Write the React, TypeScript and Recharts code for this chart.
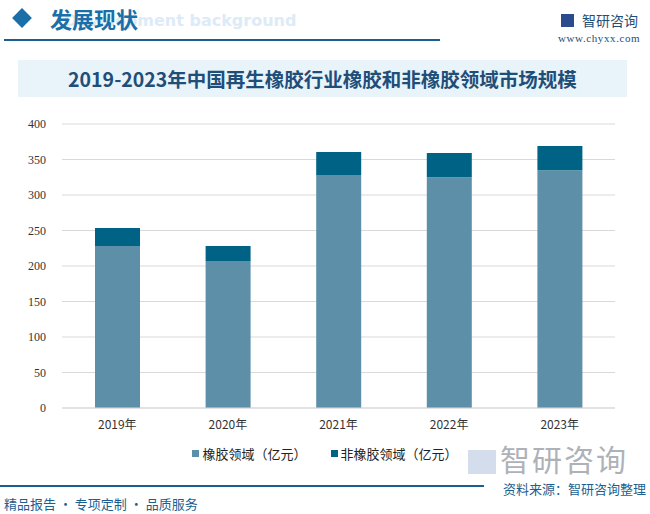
import { BarChart, Bar, XAxis, YAxis, CartesianGrid } from 'recharts'

const years = ['2019年', '2020年', '2021年', '2022年', '2023年']
const rubberField = [228, 207, 328, 325, 335]
const nonRubberField = [25.5, 21, 32.5, 34, 34]
const yTicks = [0, 50, 100, 150, 200, 250, 300, 350, 400]

const rubberColor = '#5D90A8'
const nonRubberColor = '#006386'
const brandBlue = '#1A5F8F'
const cjk = '"Noto Sans CJK SC", "Noto Sans", sans-serif'

const data = years.map((year, i) => ({
  year,
  rubber: rubberField[i],
  nonRubber: nonRubberField[i],
}))

function LegendItem({ color, label }: { color: string; label: string }) {
  return (
    <span style={{ display: 'inline-flex', alignItems: 'center', margin: '0 12px' }}>
      <span style={{ width: 7, height: 7, background: color, marginRight: 3 }} />
      {label}
    </span>
  )
}

export default function App() {
  return (
    <div
      style={{
        position: 'fixed',
        left: 0,
        top: 0,
        width: 650,
        height: 514,
        background: '#fff',
        overflow: 'hidden',
        fontFamily: cjk,
      }}
    >
      {/* header, the faint english words sit behind the heading like in the source */}
      <div
        style={{
          position: 'absolute',
          left: 64,
          top: 11,
          fontSize: 16,
          fontWeight: 700,
          color: '#DCEBF7',
          fontFamily: '"DejaVu Sans", sans-serif',
          whiteSpace: 'nowrap',
        }}
      >
        Development background
      </div>
      <div
        style={{
          position: 'absolute',
          left: 15,
          top: 11,
          width: 14,
          height: 14,
          background: '#1A6FA8',
          transform: 'rotate(45deg)',
        }}
      />
      <div
        style={{
          position: 'absolute',
          left: 50,
          top: 3,
          fontSize: 22,
          fontWeight: 700,
          color: '#1A6FA8',
          lineHeight: '30px',
        }}
      >
        发展现状
      </div>
      <div style={{ position: 'absolute', left: 4, top: 39, width: 436, height: 2, background: brandBlue }} />
      <div
        style={{
          position: 'absolute',
          left: 561,
          top: 10,
          fontSize: 14,
          color: '#1F4E79',
          display: 'flex',
          alignItems: 'center',
        }}
      >
        <span style={{ width: 13, height: 13, background: '#2B4C8C', marginRight: 8, display: 'inline-block' }} />
        智研咨询
      </div>
      <div
        style={{
          position: 'absolute',
          left: 558,
          top: 32,
          fontSize: 11,
          letterSpacing: 0.6,
          color: '#1F4E79',
          fontFamily: '"Liberation Serif", serif',
        }}
      >
        www.chyxx.com
      </div>

      {/* title */}
      <div
        style={{
          position: 'absolute',
          left: 18,
          top: 60,
          width: 609,
          height: 37,
          background: '#E8F3FA',
          display: 'flex',
          alignItems: 'center',
          justifyContent: 'center',
          fontSize: 19.5,
          fontWeight: 700,
          color: '#1F4E79',
          whiteSpace: 'nowrap',
        }}
      >
        2019-2023年中国再生橡胶行业橡胶和非橡胶领域市场规模
      </div>

      {/* chart */}
      <div style={{ position: 'absolute', left: 0, top: 100 }}>
        <BarChart
          width={650}
          height={340}
          data={data}
          margin={{ top: 24, right: 35, bottom: 2, left: 0 }}
          barSize={45}
        >
          <CartesianGrid vertical={false} stroke="#D9D9D9" />
          <XAxis
            dataKey="year"
            height={30}
            axisLine={{ stroke: '#D9D9D9' }}
            tickLine={false}
            tick={{ fontSize: 12, fill: '#333', fontFamily: cjk }}
            tickMargin={6}
          />
          <YAxis
            width={62}
            domain={[0, 400]}
            ticks={yTicks}
            axisLine={false}
            tickLine={false}
            tick={{ fontSize: 12, fill: '#333', fontFamily: '"Liberation Serif", serif' }}
            tickMargin={10}
          />
          <Bar dataKey="rubber" stackId="a" fill={rubberColor} isAnimationActive={false} />
          <Bar dataKey="nonRubber" stackId="a" fill={nonRubberColor} isAnimationActive={false} />
        </BarChart>
      </div>

      {/* legend */}
      <div
        style={{
          position: 'absolute',
          left: 0,
          top: 444,
          width: 650,
          display: 'flex',
          justifyContent: 'center',
          fontSize: 13,
          color: '#222',
        }}
      >
        <LegendItem color={rubberColor} label="橡胶领域（亿元）" />
        <LegendItem color={nonRubberColor} label="非橡胶领域（亿元）" />
      </div>

      {/* watermark logo */}
      <div
        style={{
          position: 'absolute',
          left: 500,
          top: 443,
          fontSize: 30,
          lineHeight: '30px',
          color: '#AEB2B8',
          letterSpacing: 2,
          whiteSpace: 'nowrap',
        }}
      >
        智研咨询
      </div>
      <div style={{ position: 'absolute', left: 468, top: 450, width: 28, height: 24, background: '#D3DDEB' }} />

      {/* footer */}
      <div style={{ position: 'absolute', left: 0, top: 485, width: 484, height: 2, background: brandBlue }} />
      <div
        style={{
          position: 'absolute',
          right: 4,
          top: 481,
          fontSize: 13,
          lineHeight: '16px',
          color: brandBlue,
          whiteSpace: 'nowrap',
        }}
      >
        资料来源：智研咨询整理
      </div>
      <div
        style={{
          position: 'absolute',
          left: 4,
          top: 495,
          fontSize: 13,
          lineHeight: '18px',
          color: brandBlue,
          whiteSpace: 'nowrap',
        }}
      >
        精品报告 · 专项定制 · 品质服务
      </div>
    </div>
  )
}
